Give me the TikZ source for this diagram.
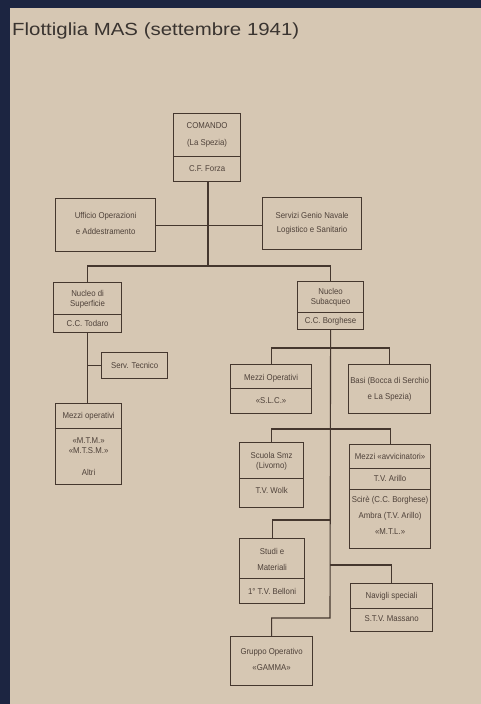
\documentclass[tikz,border=0pt]{standalone}
\usepackage{fontspec}
\setmainfont{Liberation Sans}
\newfontfamily\titlefont[FakeStretch=1.16]{Liberation Sans}
\newfontfamily\boxfont[FakeStretch=0.92]{Liberation Sans}
\definecolor{navy}{HTML}{1C2541}
\definecolor{paper}{HTML}{D6C7B3}
\definecolor{ink}{HTML}{45372E}
\definecolor{txt}{HTML}{4E4139}
\definecolor{ttl}{HTML}{3A3430}
\tikzset{
  box/.style={draw=ink, line width=1.2pt, anchor=north west, inner sep=0pt},
  lbl/.style={text=txt, font=\boxfont\fontsize{8.5}{9}\selectfont, inner sep=0pt},
  conn/.style={draw=ink, line width=1.1pt},
  divline/.style={draw=ink, line width=1.0pt}
}
\begin{document}
\begin{tikzpicture}[x=1pt,y=1pt]
\fill[navy] (0,0) rectangle (481,-704);
\fill[paper] (10,-8) rectangle (481,-704);
\useasboundingbox (0,0) rectangle (481,-704);

\node[anchor=base west, text=ttl, font=\titlefont\fontsize{17.6}{20}\selectfont, inner sep=0pt] (title) at (12,-35) {Flottiglia MAS (settembre 1941)};

% boxes
\node[box, minimum width=67, minimum height=68] (com) at (173,-113) {};
\node[box, minimum width=100, minimum height=53] (uff) at (55,-198) {};
\node[box, minimum width=99, minimum height=52] (serv) at (262,-197) {};
\node[box, minimum width=68, minimum height=50] (nsup) at (53,-282) {};
\node[box, minimum width=66, minimum height=26] (stec) at (101,-352) {};
\node[box, minimum width=66, minimum height=81] (mop) at (55,-403) {};
\node[box, minimum width=66, minimum height=48] (nsub) at (297,-281) {};
\node[box, minimum width=81, minimum height=49] (mslc) at (230,-364) {};
\node[box, minimum width=82, minimum height=49] (basi) at (348,-364) {};
\node[box, minimum width=64, minimum height=65] (scu) at (239,-442) {};
\node[box, minimum width=81, minimum height=104] (mavv) at (349,-444) {};
\node[box, minimum width=65, minimum height=65] (stu) at (239,-538) {};
\node[box, minimum width=82, minimum height=48] (nav) at (350,-583) {};
\node[box, minimum width=82, minimum height=49] (gam) at (230,-636) {};

% dividers
\draw[divline] (com.west |- 0,-156) -- (com.east |- 0,-156);
\draw[divline] (nsup.west |- 0,-314) -- (nsup.east |- 0,-314);
\draw[divline] (mop.west |- 0,-428) -- (mop.east |- 0,-428);
\draw[divline] (nsub.west |- 0,-312) -- (nsub.east |- 0,-312);
\draw[divline] (mslc.west |- 0,-388) -- (mslc.east |- 0,-388);
\draw[divline] (scu.west |- 0,-478) -- (scu.east |- 0,-478);
\draw[divline] (mavv.west |- 0,-468) -- (mavv.east |- 0,-468);
\draw[divline] (mavv.west |- 0,-489) -- (mavv.east |- 0,-489);
\draw[divline] (stu.west |- 0,-578) -- (stu.east |- 0,-578);
\draw[divline] (nav.west |- 0,-608) -- (nav.east |- 0,-608);

% texts
\node[lbl] (tcom1) at (com.center |- 0,-126) {COMANDO};
\node[lbl] (tcom2) at (com.center |- 0,-143) {(La Spezia)};
\node[lbl] (tcom3) at (com.center |- 0,-169) {C.F. Forza};
\node[lbl] (tuff1) at (uff.center |- 0,-216) {Ufficio Operazioni};
\node[lbl] (tuff2) at (uff.center |- 0,-231) {e Addestramento};
\node[lbl] (tserv1) at (serv.center |- 0,-215) {Servizi Genio Navale};
\node[lbl] (tserv2) at (serv.center |- 0,-230) {Logistico e Sanitario};
\node[lbl] (tnsup1) at (nsup.center |- 0,-293) {Nucleo di};
\node[lbl] (tnsup2) at (nsup.center |- 0,-304) {Superficie};
\node[lbl] (tnsup3) at (nsup.center |- 0,-323) {C.C. Todaro};
\node[lbl] (tstec) at (stec.center) {Serv. Tecnico};
\node[lbl] (tmop1) at (mop.center |- 0,-416) {Mezzi operativi};
\node[lbl] (tmop2) at (mop.center |- 0,-441) {«M.T.M.»};
\node[lbl] (tmop3) at (mop.center |- 0,-451) {«M.T.S.M.»};
\node[lbl] (tmop4) at (mop.center |- 0,-472) {Altri};
\node[lbl] (tnsub1) at (nsub.center |- 0,-291) {Nucleo};
\node[lbl] (tnsub2) at (nsub.center |- 0,-302) {Subacqueo};
\node[lbl] (tnsub3) at (nsub.center |- 0,-321) {C.C. Borghese};
\node[lbl] (tmslc1) at (mslc.center |- 0,-378) {Mezzi Operativi};
\node[lbl] (tmslc2) at (mslc.center |- 0,-401) {«S.L.C.»};
\node[lbl] (tbasi1) at (basi.center |- 0,-381) {Basi (Bocca di Serchio};
\node[lbl] (tbasi2) at (basi.center |- 0,-397) {e La Spezia)};
\node[lbl] (tscu1) at (scu.center |- 0,-455) {Scuola Smz};
\node[lbl] (tscu2) at (scu.center |- 0,-466) {(Livorno)};
\node[lbl] (tscu3) at (scu.center |- 0,-490) {T.V. Wolk};
\node[lbl] (tmavv1) at (mavv.center |- 0,-456) {Mezzi «avvicinatori»};
\node[lbl] (tmavv2) at (mavv.center |- 0,-478) {T.V. Arillo};
\node[lbl] (tmavv3) at (mavv.center |- 0,-500) {Scirè (C.C. Borghese)};
\node[lbl] (tmavv4) at (mavv.center |- 0,-516) {Ambra (T.V. Arillo)};
\node[lbl] (tmavv5) at (mavv.center |- 0,-532) {«M.T.L.»};
\node[lbl] (tstu1) at (stu.center |- 0,-551) {Studi e};
\node[lbl] (tstu2) at (stu.center |- 0,-567) {Materiali};
\node[lbl] (tstu3) at (stu.center |- 0,-591) {1° T.V. Belloni};
\node[lbl] (tnav1) at (nav.center |- 0,-596) {Navigli speciali};
\node[lbl] (tnav2) at (nav.center |- 0,-619) {S.T.V. Massano};
\node[lbl] (tgam1) at (gam.center |- 0,-652) {Gruppo Operativo};
\node[lbl] (tgam2) at (gam.center |- 0,-668) {«GAMMA»};

% connectors
\coordinate (bus) at (208,-266);
\draw[conn] (com.south -| bus) -- (bus);
\draw[conn] (uff.east) -- (uff.east -| serv.west);
\draw[conn] (nsup.north) |- (bus) -| (nsub.north);
\draw[conn] (nsup.south) -- (nsup.south |- mop.north);
\draw[conn] (stec.west) -- (stec.west -| nsup.south);
\coordinate (j1) at (330,-348);
\coordinate (j2) at (330,-429);
\coordinate (j3) at (330,-520);
\coordinate (j4) at (330,-565);
\coordinate (j5) at (330,-618);
\draw[conn] (nsub.south) -- (j5) -| (gam.north);
\draw[conn] (mslc.north) |- (j1) -| (basi.north);
\draw[conn] (scu.north) |- (j2) -| (mavv.north);
\draw[conn] (stu.north) |- (j3);
\draw[conn] (nav.north) |- (j4);
\end{tikzpicture}
\end{document}
